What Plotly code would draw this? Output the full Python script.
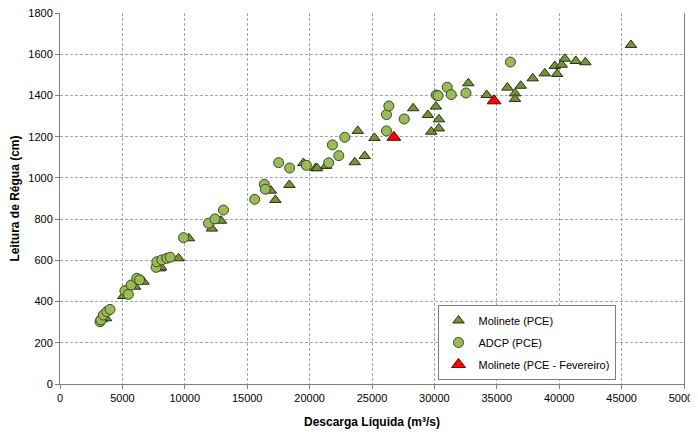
import plotly.graph_objects as go

# Molinete (PCE)
mol_x = [3340, 3690, 5080, 6020, 6550, 6690, 8000, 8100, 9500, 10330, 12170, 12900,
         16900, 17260, 18380, 19500, 20470, 20600, 21320, 23620, 23860, 24420, 25200,
         28300, 29480, 29750, 30120, 30360, 30360, 32720, 34190, 35850, 36460, 36460,
         36920, 37880, 38840, 39830, 39650, 40200, 40450, 41330, 42100, 45750]
mol_y = [314, 319, 427, 472, 505, 496, 561, 566, 610, 707, 754, 792,
         938, 893, 966, 1072, 1047, 1047, 1058, 1076, 1228, 1106, 1194,
         1338, 1305, 1224, 1346, 1284, 1240, 1459, 1402, 1438, 1410, 1383,
         1447, 1483, 1507, 1504, 1543, 1549, 1578, 1567, 1561, 1645]

# ADCP (PCE)
adcp_x = [3210, 3270, 3480, 3750, 4010, 5200, 5480, 5700, 6150, 6370, 7700, 7760,
          8160, 8560, 8830, 9900, 11900, 12410, 13100, 15600, 16370, 16450, 17520,
          18400, 19740, 21530, 21830, 22340, 22820, 26160, 26160, 26350, 27580,
          30150, 30300, 31030, 31350, 32530, 36090]
adcp_y = [302, 311, 335, 351, 362, 453, 435, 480, 513, 505, 566, 593,
          602, 610, 615, 710, 780, 801, 844, 896, 969, 945, 1074,
          1048, 1061, 1073, 1160, 1108, 1197, 1228, 1307, 1349, 1286,
          1402, 1399, 1440, 1404, 1412, 1562]

# Molinete (PCE - Fevereiro)
fev_x = [26750, 34780]
fev_y = [1197, 1374]

x_ticks = [0, 5000, 10000, 15000, 20000, 25000, 30000, 35000, 40000, 45000, 50000]
y_ticks = [0, 200, 400, 600, 800, 1000, 1200, 1400, 1600, 1800]

fig = go.Figure()
fig.add_trace(go.Scatter(
    x=mol_x, y=mol_y, mode="markers", name="Molinete (PCE)", legendgroup="a",
    marker=dict(symbol="triangle-up", size=10, color="#76923C",
                line=dict(color="#263010", width=1))))
fig.add_trace(go.Scatter(
    x=adcp_x, y=adcp_y, mode="markers", name="ADCP (PCE)", legendgroup="b",
    marker=dict(symbol="circle", size=10, color="#9BBB59",
                line=dict(color="#3a4a20", width=1))))
fig.add_trace(go.Scatter(
    x=fev_x, y=fev_y, mode="markers", name="Molinete (PCE - Fevereiro)", legendgroup="c",
    marker=dict(symbol="triangle-up", size=12, color="#FF0000",
                line=dict(color="#600000", width=1))))

font_family = "Liberation Sans, Arial, sans-serif"
grid = dict(showgrid=True, gridcolor="#a6a6a6", griddash="3px,2px", gridwidth=1,
            showline=True, linecolor="#808080", linewidth=1,
            ticks="outside", ticklen=4, tickcolor="#808080", zeroline=False,
            ticklabeloverflow="allow")
fig.update_layout(
    width=690, height=424,
    margin=dict(l=52, r=14, t=5, b=48, autoexpand=False),
    paper_bgcolor="white", plot_bgcolor="white",
    font=dict(family=font_family, size=11, color="#000000"),
    showlegend=True,
    legend=dict(x=0.605, y=0.213, xanchor="left", yanchor="top",
                bgcolor="white", bordercolor="#808080", borderwidth=1,
                font=dict(size=11, family=font_family), tracegroupgap=3,
                itemsizing="trace", itemwidth=30),
    xaxis=dict(range=[0, 50000], tickvals=x_ticks, ticktext=[str(v) for v in x_ticks],
               automargin=False,
               title=dict(text="<b>Descarga Líquida (m³/s)</b>", font=dict(size=12), standoff=14),
               **grid),
    yaxis=dict(range=[0, 1800], tickvals=y_ticks, ticktext=[str(v) for v in y_ticks],
               mirror=True, automargin=False,
               title=dict(text="<b>Leitura de Régua (cm)</b>", font=dict(size=12), standoff=10),
               **grid),
)
fig.write_html("out.html")
